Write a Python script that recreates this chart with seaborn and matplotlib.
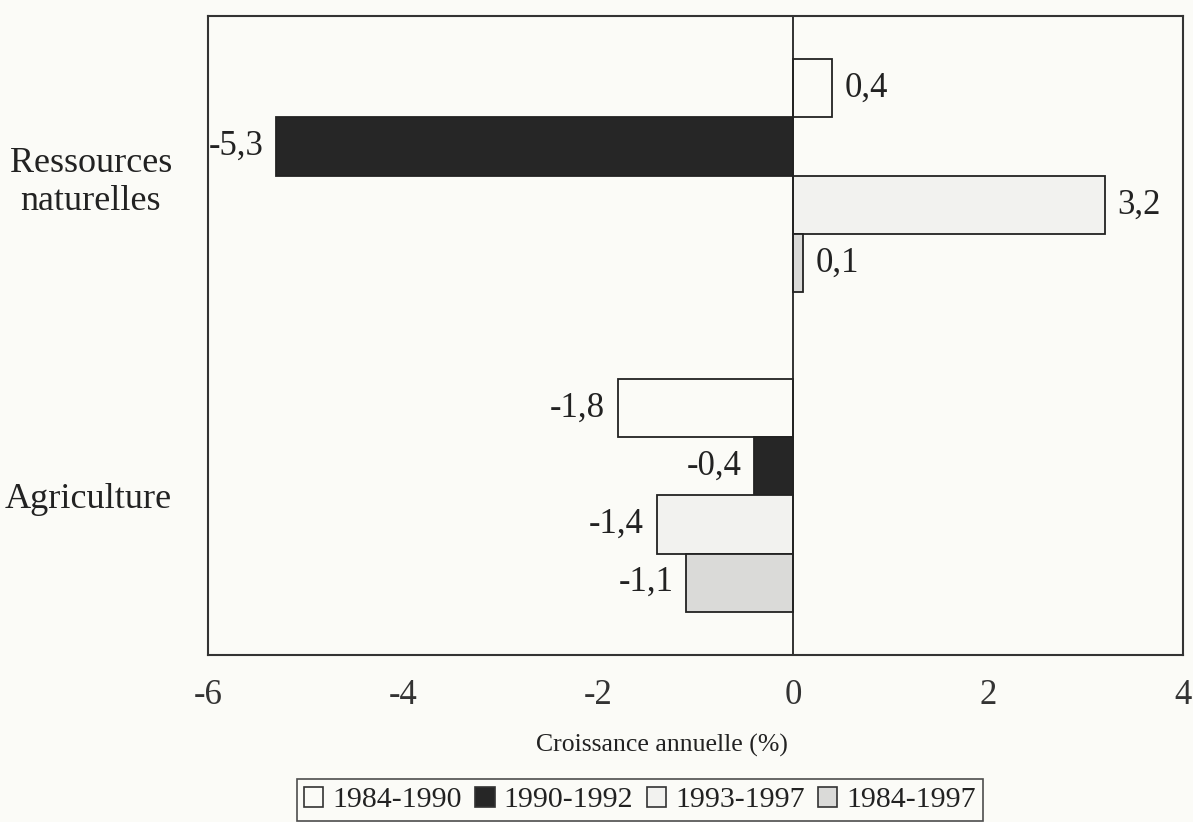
import matplotlib
matplotlib.use("Agg")
import matplotlib.pyplot as plt
import seaborn as sns
import pandas as pd

categories = ["Ressources\nnaturelles", "Agriculture"]
periods = ["1984-1990", "1990-1992", "1993-1997", "1984-1997"]
v_1984_1990 = [0.4, -1.8]
v_1990_1992 = [-5.3, -0.4]
v_1993_1997 = [3.2, -1.4]
v_1984_1997 = [0.1, -1.1]
xticks = [-6, -4, -2, 0, 2, 4]

series = [v_1984_1990, v_1990_1992, v_1993_1997, v_1984_1997]
rows = []
for p, vals in zip(periods, series):
    for c, v in zip(categories, vals):
        rows.append({"cat": c, "period": p, "val": v})
df = pd.DataFrame(rows)

sns.set_style("white")
plt.rcParams["font.family"] = ["Liberation Serif", "DejaVu Serif"]
bg = "#fbfbf7"
palette = {"1984-1990": "#fbfbf7", "1990-1992": "#262626",
           "1993-1997": "#f2f2ef", "1984-1997": "#dadad8"}

fig = plt.figure(figsize=(11.93, 8.22), dpi=100, facecolor=bg)
ax = fig.add_axes([208/1193, 1-655/822, (1183-208)/1193, (655-16)/822])
ax.set_facecolor(bg)
sns.barplot(data=df, y="cat", x="val", hue="period", hue_order=periods,
            order=categories, palette=palette, orient="h", width=0.73,
            edgecolor="#222222", linewidth=1.3, ax=ax, legend=False, gap=0)

for cont in ax.containers:
    labels = [f"{b.get_width():.1f}".replace(".", ",") for b in cont]
    ax.bar_label(cont, labels=labels, padding=9, fontsize=25, color="#222222")

ax.axvline(0, color="#222222", lw=1.3)
ax.set_xlim(-6, 4)
ax.set_ylim(1.5, -0.5)
ax.set_xticks(xticks)
ax.set_xticklabels([str(t) for t in xticks], fontsize=25, color="#333333")
ax.tick_params(axis="x", length=0, pad=17)
ax.tick_params(axis="y", length=0, pad=26)
for lab in ax.get_yticklabels():
    lab.set_fontsize(26)
    lab.set_multialignment("center")
    lab.set_color("#222222")
ax.set_ylabel("")
ax.set_xlabel("")
for s in ax.spines.values():
    s.set_visible(True)
    s.set_color("#333333")
    s.set_linewidth(1.5)

fig.text(662/1193, 1-745/822, "Croissance annuelle (%)", ha="center", va="center",
         fontsize=18.5, color="#222222")

from matplotlib.patches import Patch
handles = [Patch(facecolor=palette[p], edgecolor="#333333", linewidth=1.2, label=p) for p in periods]
leg = fig.legend(handles=handles, loc="center", bbox_to_anchor=(640/1193, 1-800/822),
                 ncol=4, fontsize=21.5, frameon=True, fancybox=False, handlelength=0.65,
                 handleheight=0.65, handletextpad=0.3, columnspacing=0.45,
                 borderpad=0.25, borderaxespad=0)
leg.get_frame().set_edgecolor("#222222")
leg.get_frame().set_linewidth(1.2)
leg.get_frame().set_facecolor(bg)
for t in leg.get_texts():
    t.set_color("#222222")

fig.savefig("out.png", dpi=100, facecolor=bg)
